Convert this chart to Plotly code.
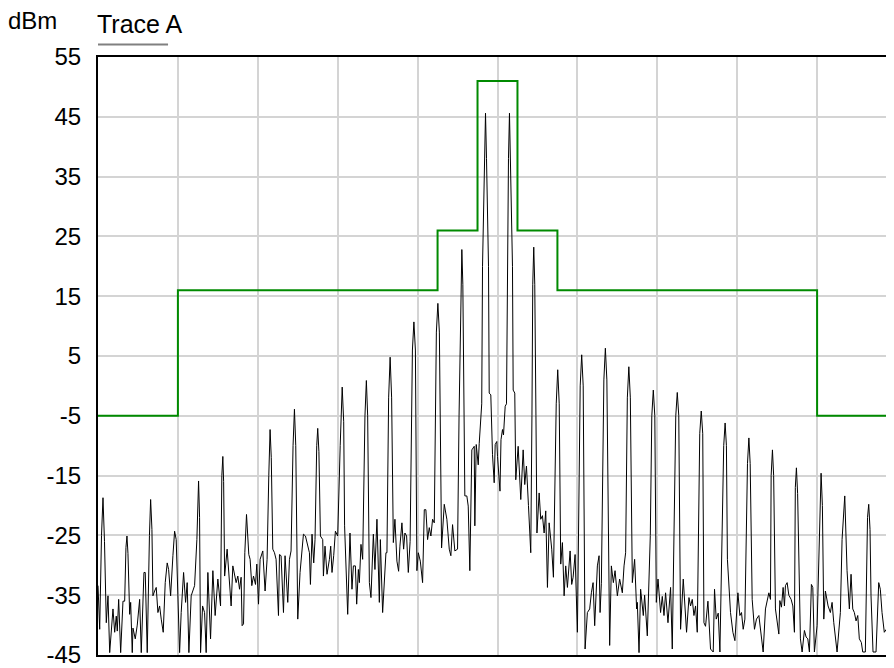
import plotly.graph_objects as go

# Sweep point index (0..800) and measured level (dBm) of Trace A
trace_pt = [0, 1.7, 3.5, 5, 6.5, 8.3, 10, 11.7, 15, 16.7, 18.3, 19.3, 20.7, 22.7, 25, 26.7, 28, 29, 30, 31.7,
            32.7, 34.3, 35, 37.3, 39.3, 41.7, 43.3, 46, 47.3, 49.3, 51.5, 52.7, 54, 55, 56.7, 58.3, 60, 61.7, 63.3, 65.3,
            67.3, 69.3, 70.7, 72.7, 75, 76.7, 78.3, 80, 81.7, 83.3, 85.7, 87.7, 89.3, 91, 93.3, 96.7, 99, 100.7, 101.7, 102.7,
            104.7, 106.7, 108.3, 110, 112.7, 115, 117.3, 120, 122.7, 124, 125, 125.8, 126.8, 129.3, 131.7, 133.3, 135, 138.3, 140, 141.7,
            143.3, 144.3, 145.7, 147, 148.7, 151, 152.3, 154, 155.7, 157.7, 159, 160.7, 162.3, 165, 167.3, 169.3, 171, 172.3, 173.5, 175,
            176.7, 178.3, 180.7, 181.7, 183.3, 184.3, 185.7, 187.3, 190, 191.7, 193.3, 195.3, 196.7, 198, 199, 200, 202.3, 205.7, 207.7, 210,
            211.7, 212.7, 214.3, 216, 217.3, 219, 220, 221.2, 222.7, 225, 225.7, 227.3, 229.3, 231.7, 233, 234.3, 236, 237.7, 240, 242.5,
            244.5, 246, 246.9, 250, 252.3, 254.3, 255.7, 257.7, 259, 260.7, 261.7, 263.3, 265, 267.3, 268.7, 270, 271.7, 273.3, 275.7, 277.3,
            279.3, 281.7, 282.7, 285, 286.7, 288.3, 289.3, 291, 292.5, 294, 295.7, 297.3, 299.3, 301, 302.3, 304.3, 306, 307.3, 309, 310.7,
            312.5, 314.8, 316.3, 317.8, 319.3, 320.7, 322.7, 325, 326.7, 328.3, 330, 331.7, 333.3, 335, 336.7, 338.8, 340.3, 341.8, 344, 346.7,
            349.3, 351.7, 353.3, 355, 357.3, 360, 361.5, 363.3, 364.3, 365.3, 366.6, 367.3, 369.3, 370.7, 372.3, 374.3, 376.7, 377.3, 378.7, 380.7,
            381.7, 383.3, 384.2, 385, 387, 388, 389, 391, 391.7, 393.3, 395, 396.7, 397.7, 399.3, 400, 401.7, 402.5, 403.5, 405, 406,
            407.7, 409, 409.8, 411, 412, 413, 415, 415.7, 417.3, 418.3, 420.7, 423.3, 425.7, 427.3, 429, 431, 433.3, 434.5, 435.3, 436.3,
            437.3, 438.5, 439.5, 441.7, 443.3, 445, 446.7, 448.3, 450, 451.7, 454.3, 456, 458.8, 460.3, 461.8, 463.3, 465, 466.7, 468.3, 470,
            472.7, 474.3, 475.7, 477.7, 480, 482.8, 484.3, 485.8, 487.7, 490, 492.3, 494, 495.7, 497.3, 500, 501.7, 502.7, 504, 506.5, 508,
            509.5, 512.3, 514, 516, 517.7, 520, 522.3, 525, 526.7, 528.3, 530, 531.5, 533, 535, 537.3, 539.3, 540, 541.7, 543.3, 546,
            547.3, 550, 551.7, 553, 554.5, 556, 557.5, 559, 560.7, 563.3, 565, 566.7, 568.3, 570.7, 573.3, 575, 578.5, 580, 581.5, 583.3,
            586, 587.7, 589.3, 591.7, 593.3, 595, 596.7, 598.3, 600, 602.5, 604, 605.5, 606.7, 608.3, 610.7, 613.3, 616, 617.3, 619, 621,
            622.7, 626.5, 627.9, 629.2, 630.2, 633.3, 635.7, 637.7, 640.7, 642.7, 644.3, 646, 647.7, 650.3, 651.7, 653, 655, 657.3, 659.3, 661.7,
            664, 666, 668.3, 671.7, 673.3, 674, 675.3, 676.5, 678.3, 680, 681.7, 682.7, 684.3, 686, 687.3, 688.3, 690, 691.7, 694, 695.7,
            697.3, 698.2, 699.3, 700.5, 701.7, 703.3, 705, 707.3, 709, 710.7, 712.3, 714.3, 715.7, 717.3, 720, 722.7, 724, 725.3, 726.7, 728.3,
            731, 733.3, 735, 736.7, 738.3, 740, 743.3, 745, 747.7, 750, 752.3, 754, 755.7, 757.3, 759, 760.7, 762.3, 764.3, 765.7, 768.3,
            770.5, 771.7, 773, 774, 776, 779, 781.7, 783.3, 785, 787.3, 789.3, 791.7, 793.3, 795, 796.5, 798, 800]
trace_dbm = [-33.4, -40.7, -25, -18.7, -26, -39.6, -35.1, -44.6, -37.3, -41.2, -38.5, -41, -35.7, -44.6, -36, -36, -27, -25.1, -28, -38.2,
             -36.2, -44.6, -40.5, -42.3, -40, -35.7, -44.6, -31.2, -31.2, -44.6, -25, -19, -24, -35.1, -34.3, -33.7, -37.9, -36.8, -39, -41.2,
             -32.9, -29.6, -30.7, -35.1, -28.4, -24.3, -25.7, -34.6, -44.6, -37.9, -31.2, -36.2, -32.9, -44.6, -35.1, -33.4, -25.7, -15.9, -22, -44.6,
             -36.8, -37.9, -44.6, -31.2, -42.3, -30.9, -38.4, -32.3, -36.8, -15, -11.8, -16, -31.8, -27.3, -32.3, -36.8, -30.1, -32.9, -31.8, -34,
             -32, -40.1, -39.8, -27.9, -21.5, -28.2, -29, -33.4, -31.8, -33.2, -29.8, -36.5, -29, -27.6, -34.3, -29, -15, -7.3, -12, -27.3,
             -27.9, -29, -38.4, -28.2, -28.4, -31.5, -37.9, -28.4, -36.2, -29, -27.6, -10, -3.9, -10, -27.9, -39, -31.2, -24.8, -25.1, -26.8,
             -27.9, -33.2, -24.8, -29.6, -25.7, -10, -7.1, -11, -25.1, -25.7, -31.8, -26.8, -31.5, -29, -26.8, -31.2, -28.4, -24.3, -25.1, -10,
             -0.2, -6, -23.4, -38.2, -24.6, -34, -30.1, -30.1, -36.5, -30.7, -32.9, -26.5, -29, -5, 0.9, -5, -32.9, -35.4, -24.8, -30.7,
             -22.3, -36.2, -25.7, -37.9, -32.3, -27.9, -27.9, -2, 4.8, -2, -26.2, -22.3, -29.3, -31, -26.8, -22.9, -27.3, -24.6, -25.1, -31.2,
             -26, 6, 10.7, 6, -30.9, -27.9, -29.3, -32.9, -20.7, -20.7, -25.7, -23.7, -25.1, -22.3, -22.9, 9, 13.8, 9, -27.1, -19.8,
             -22.3, -27.3, -28.4, -23.2, -27.6, -27.3, -5, 17, 22.8, 17, -5, -18.4, -18.4, -20.1, -30.9, -10.7, -10.1, -23.4, -9.8, -13.2,
             -9.6, -4, -3, 20, 38, 45.6, 38, 20, -1.2, -1.5, -11.5, -16.2, -9.8, -9.3, -11.8, -17.3, -17.6, -9, -7.3, -8.2,
             -3.4, -3, 20, 38, 45.6, 38, 20, -0.7, -1.2, -15.7, -10.1, -19, -10.7, -16.5, -13.4, -20, -27.9, -5, 17, 23.2,
             17, -5, -24.6, -17.9, -22.3, -21.7, -24.6, -20.9, -33.7, -22.9, -27.3, -32, -3, 2.7, -3, -29.8, -26.2, -35.1, -30.1, -33.7,
             -27.6, -33.2, -32, -28.2, -41.2, 0, 5.2, 0, -44, -37.9, -37.3, -34.6, -32.9, -40.1, -30.1, -28.4, -37.9, -33, 1, 6.3,
             1, -43.4, -30.1, -32.9, -30.9, -35.1, -32.3, -34.6, -30.1, -27.9, -2, 3.2, -2, -32.9, -29, -37.3, -36.2, -44.6, -34, -38.4,
             -35, -41.8, -32.3, -25, -5, -0.7, -5, -36.2, -32.3, -37.9, -35.2, -38.4, -34.6, -39.6, -33.7, -44, -5, -1.1, -5, -40.7,
             -32.3, -36.8, -41.2, -35.4, -36.8, -35.7, -38.4, -36.8, -41.2, -8, -4.2, -8, -39.6, -40.2, -36, -44, -44.5, -34, -39, -38,
             -44.5, -10, -6.2, -10, -29, -37.9, -41.2, -42.6, -34.6, -38.4, -37.9, -40.7, -39, -13, -8.7, -13, -35.7, -40.7, -39, -38.4,
             -41.2, -44.5, -37.3, -34.6, -35.7, -15, -10.7, -15, -37.3, -39.8, -41.5, -35.9, -37, -33.7, -36.8, -33.4, -32.9, -35, -35.7, -36.8,
             -41.2, -17, -13.7, -18, -30, -42.3, -44.5, -40.9, -42, -42.3, -44.5, -33.2, -33.7, -44.5, -40.1, -20, -14.6, -20, -39, -34.3,
             -36.8, -37.9, -36.2, -39.6, -42.3, -44.5, -37.9, -25.7, -18.4, -30.9, -37.3, -31.5, -37.3, -37.9, -39.3, -38.4, -42.3, -42.9, -44.5, -44.5,
             -22, -19.8, -24, -35.1, -44.5, -44.5, -32.9, -34, -37.9, -41.2, -40.7, -41.2, -37.9, -16, -15.5, -22, -38]

# Limit mask (step edges, sweep point index) and level (dBm)
mask_pt = [0, 80, 340, 380, 420, 460, 720, 800]
mask_dbm = [-5, 16, 26, 51, 26, 16, -5, -5]

y_ticks = [-45, -35, -25, -15, -5, 5, 15, 25, 35, 45, 55]
font_family = "Liberation Sans, Arial, sans-serif"

fig = go.Figure()
fig.add_trace(go.Scatter(x=mask_pt, y=mask_dbm, mode="lines", line_shape="hv",
                         line=dict(color="#008a00", width=2), hoverinfo="skip", showlegend=False))
fig.add_trace(go.Scatter(x=trace_pt, y=trace_dbm, mode="lines",
                         line=dict(color="black", width=1), showlegend=False, name="Trace A"))

# The page body adds an 8 px margin, so the figure is sized 8 px smaller and the margins shifted.
fig.update_layout(
    width=886, height=660,
    margin=dict(l=90, r=0, t=49, b=13),
    paper_bgcolor="white", plot_bgcolor="white",
    font=dict(family=font_family, size=24, color="black"),
    xaxis=dict(range=[0, 797], dtick=80, tick0=0, showticklabels=False, ticks="",
               showgrid=True, gridcolor="#d4d4d4", gridwidth=1.5, zeroline=False,
               showline=True, linecolor="black", linewidth=2, mirror=True),
    yaxis=dict(range=[-45, 55], tickvals=y_ticks, ticktext=[str(v) for v in y_ticks],
               ticks="outside", ticklen=10, tickcolor="rgba(0,0,0,0)", ticklabeloverflow="allow",
               showgrid=True, gridcolor="#d4d4d4", gridwidth=1.5, zeroline=False,
               showline=True, linecolor="black", linewidth=2, mirror=False,
               tickfont=dict(size=24)),
    annotations=[
        dict(text="dBm", xref="paper", yref="paper", x=-0.116, y=1.061, xanchor="left", yanchor="middle",
             showarrow=False, font=dict(size=24)),
        dict(text="Trace A", xref="paper", yref="paper", x=-0.004, y=1.055, xanchor="left", yanchor="middle",
             showarrow=False, font=dict(size=25)),
    ],
    shapes=[dict(type="line", xref="paper", yref="paper", x0=0, x1=0.088, y0=1.021, y1=1.021,
                 line=dict(color="#808080", width=2))],
)

fig.write_html("out.html")
